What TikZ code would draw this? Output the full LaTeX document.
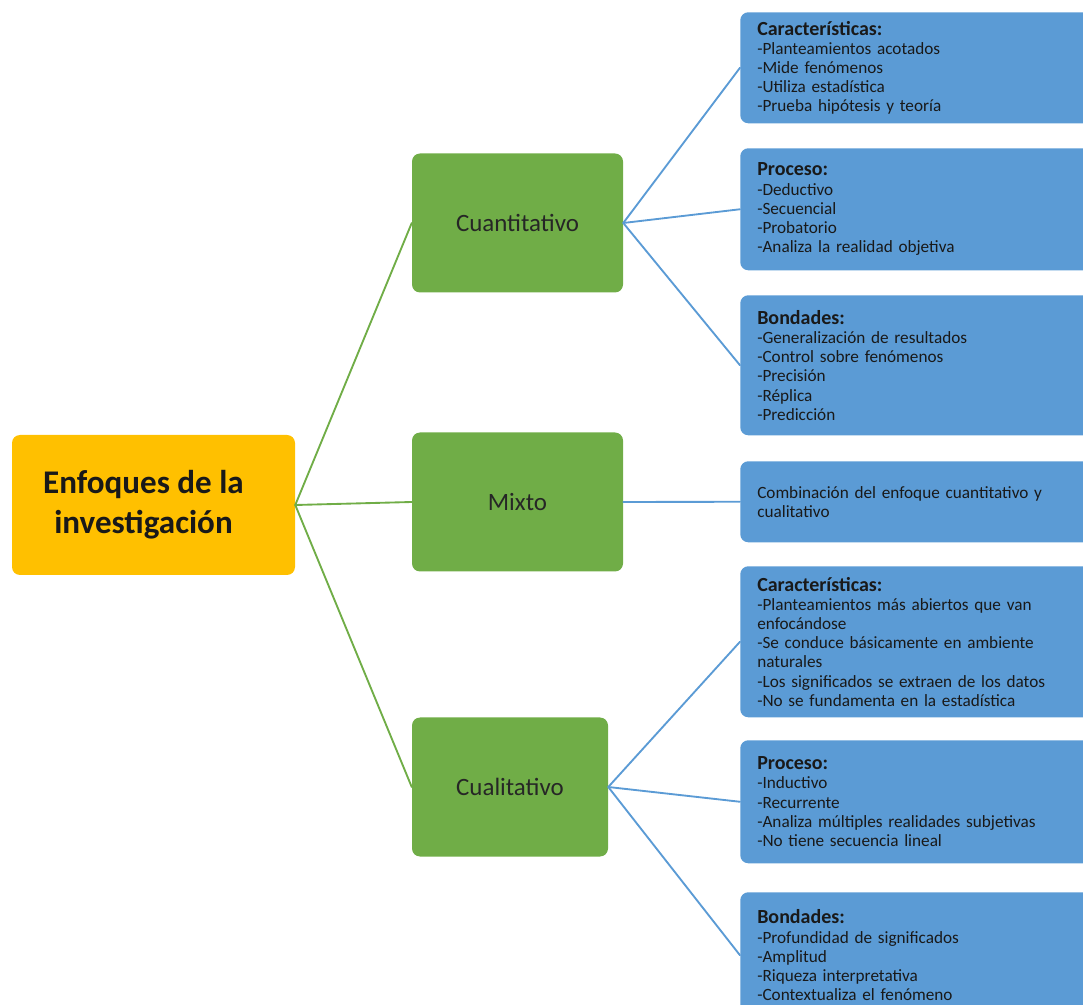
\documentclass[tikz,border=0pt]{standalone}
\usepackage{fontspec}
\setmainfont{Carlito}
\usetikzlibrary{positioning}

\definecolor{enfoqueorange}{RGB}{255,192,0}
\definecolor{enfoquegreen}{RGB}{112,173,71}
\definecolor{enfoqueblue}{RGB}{91,155,213}

% Bold heading inside the blue boxes
\newcommand{\encab}[1]{{\fontsize{15}{14.4}\selectfont\bfseries #1}}

\tikzset{
  mainbox/.style={fill=enfoqueorange, rounded corners=6pt, minimum width=212.25pt, minimum height=105pt},
  mainlabel/.style={align=center, text=black!90, font=\fontsize{24.8}{30}\selectfont\bfseries},
  tipobox/.style={fill=enfoquegreen, rounded corners=6pt, minimum height=104.25pt, text=black!85, font=\fontsize{18.7}{22}\selectfont},
  detallebox/.style={fill=enfoqueblue, rounded corners=6pt, anchor=north west, minimum width=266.25pt, inner xsep=12.75pt, text width=240.75pt, align=left, text=black!90, font=\fontsize{12.9}{14.4}\selectfont},
  ramaverde/.style={draw=enfoquegreen, line width=1.4pt},
  ramaazul/.style={draw=enfoqueblue, line width=1.4pt}
}

\begin{document}
\begin{tikzpicture}[x=0.75pt, y=-0.75pt, line cap=round, line join=round]
	% Page frame (pixel units, y downwards)
	\path[use as bounding box, clip] (0,0) rectangle (1083,1005);
	
	% Main box
	\node[mainbox] (enfoques) at (153.5,505) {};
	\node[mainlabel] (enfoqueslbl) at ([xshift=-7.5pt]enfoques.center) {Enfoques de la\\investigación};
	
	% The three approaches
	\node[tipobox, minimum width=158.25pt] (cuanti) at (517.5,223) {Cuantitativo};
	\node[tipobox, minimum width=158.25pt] (mixto) at (517.5,502) {Mixto};
	\node[tipobox, minimum width=147pt] (cuali) at (510,787) {Cualitativo};
	
	% Details of the quantitative approach
	\node[detallebox, minimum height=83.25pt] (cuantiCar) at (740,12)
	{\encab{Características:}\\-Planteamientos acotados\\-Mide fenómenos\\-Utiliza estadística\\-Prueba hipótesis y teoría};
	\node[detallebox, minimum height=91.5pt] (cuantiPro) at (740,148)
	{\encab{Proceso:}\\-Deductivo\\-Secuencial\\-Probatorio\\-Analiza la realidad objetiva};
	\node[detallebox, minimum height=105pt] (cuantiBon) at (740,295)
	{\encab{Bondades:}\\-Generalización de resultados\\-Control sobre fenómenos\\-Precisión\\-Réplica\\-Predicción};
	
	% Mixed approach
	\node[detallebox, minimum height=60.75pt] (mixtoDef) at (740,461)
	{Combinación del enfoque cuantitativo y\\cualitativo\\[2pt]};
	
	% Details of the qualitative approach
	\node[detallebox, minimum height=113.25pt] (cualiCar) at (740,566)
	{\encab{Características:}\\-Planteamientos más abiertos que van\\enfocándose\\-Se conduce básicamente en ambiente\\naturales\\-Los significados se extraen de los datos\\-No se fundamenta en la estadística};
	\node[detallebox, minimum height=92.25pt] (cualiPro) at (740,740)
	{\encab{Proceso:}\\-Inductivo\\-Recurrente\\-Analiza múltiples realidades subjetivas\\-No tiene secuencia lineal};
	\node[detallebox, minimum height=94.5pt] (cualiBon) at (740,892)
	{\encab{Bondades:}\\-Profundidad de significados\\-Amplitud\\-Riqueza interpretativa\\-Contextualiza el fenómeno};
	
	% Green branches
	\draw[ramaverde] (enfoques.east) -- (cuanti.west);
	\draw[ramaverde] (enfoques.east) -- (mixto.west);
	\draw[ramaverde] (enfoques.east) -- (cuali.west);
	
	% Blue branches
	\draw[ramaazul] (cuanti.east) -- (cuantiCar.west);
	\draw[ramaazul] (cuanti.east) -- (cuantiPro.west);
	\draw[ramaazul] (cuanti.east) -- (cuantiBon.west);
	\draw[ramaazul] (mixto.east) -- (mixtoDef.west);
	\draw[ramaazul] (cuali.east) -- (cualiCar.west);
	\draw[ramaazul] (cuali.east) -- (cualiPro.west);
	\draw[ramaazul] (cuali.east) -- (cualiBon.west);
\end{tikzpicture}
\end{document}
